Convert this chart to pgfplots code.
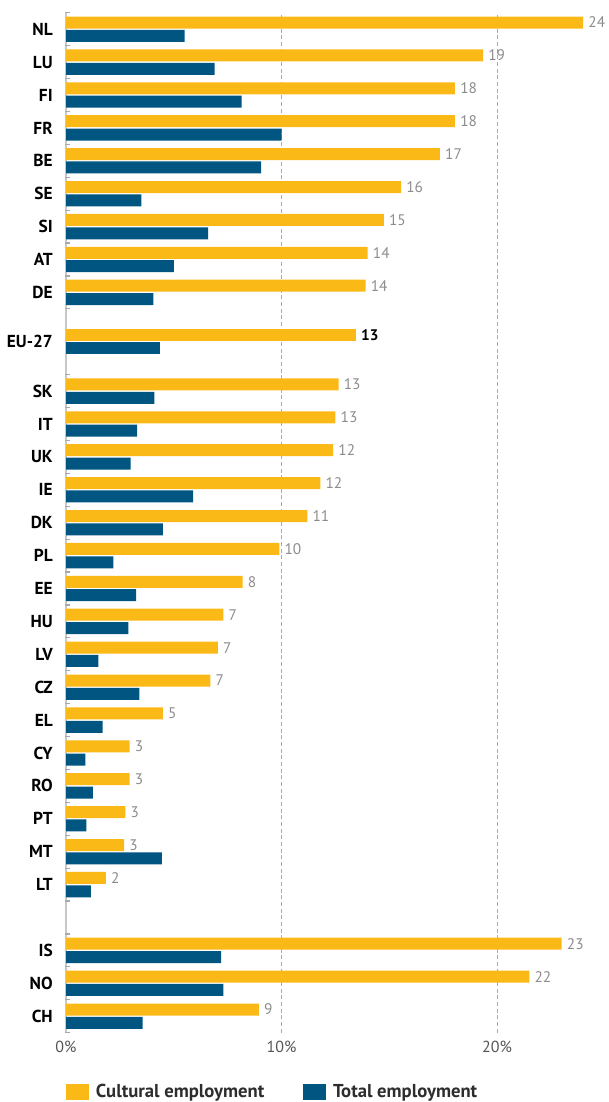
\documentclass[border=0pt]{standalone}
\usepackage{pgfplots}
\pgfplotsset{compat=1.18}
\usepackage{pgfplotstable}
\usepackage{fontspec}
\setmainfont{PT Sans}
\usetikzlibrary{plotmarks}
\definecolor{cult}{RGB}{251,185,23}
\definecolor{tot}{RGB}{0,85,129}
\definecolor{lblgray}{RGB}{140,140,140}
\definecolor{axgray}{RGB}{200,200,200}
\definecolor{tickgray}{RGB}{170,170,170}
\definecolor{gridgray}{RGB}{170,170,170}
\definecolor{legtxt}{RGB}{45,45,45}
\definecolor{ticktxt}{RGB}{85,85,85}

\pgfplotstableread{
y c t l
30 24.0 5.5 24
29 19.35 6.9 19
28 18.05 8.15 18
27 18.05 10.0 18
26 17.35 9.05 17
25 15.55 3.5 16
24 14.75 6.6 15
23 14.0 5.0 14
22 13.9 4.05 14
19 12.65 4.1 13
18 12.5 3.3 13
17 12.4 3.0 12
16 11.8 5.9 12
15 11.2 4.5 11
14 9.9 2.2 10
13 8.2 3.25 8
12 7.3 2.9 7
11 7.05 1.5 7
10 6.7 3.4 7
9 4.5 1.7 5
8 2.95 0.9 3
7 2.95 1.25 3
6 2.75 0.95 3
5 2.7 4.45 3
4 1.85 1.15 2
2 23.0 7.2 23
1 21.5 7.3 22
0 8.95 3.55 9
}\data

\pgfplotstableread{
y c t l
20.5 13.45 4.35 13
}\eu

\pgfplotsset{
  common/.style={
    x=16.1625pt, y=24.675pt,
    xmin=0, xmax=25, ymin=-0.5, ymax=30.5,
    clip=false,
  }
}

\begin{document}
\begin{tikzpicture}
% background axis: x tick labels and dashed grid
\begin{axis}[
  common,
  axis y line=none,
  axis x line*=bottom,
  x axis line style={draw=none, -},
  xtick={0,10,20},
  xticklabels={0\%,10\%,20\%},
  every x tick/.style={draw=none},
  xmajorgrids,
  major grid style={draw=gridgray, dash pattern=on 3pt off 2pt, line width=0.6pt},
  xticklabel style={font=\fontsize{12}{14}\selectfont, text=ticktxt, inner sep=0pt, yshift=-6pt},
]
\end{axis}
% main axis
\begin{axis}[
  common,
  axis x line=none,
  axis y line*=left,
  y axis line style={draw=axgray, line width=1.5pt, -},
  ytick={0,1,2,4,5,6,7,8,9,10,11,12,13,14,15,16,17,18,19,20.5,22,23,24,25,26,27,28,29,30},
  yticklabels={CH,NO,IS,LT,MT,PT,RO,CY,EL,CZ,LV,HU,EE,PL,DK,IE,UK,IT,SK,EU-27,DE,AT,SI,SE,BE,FR,FI,LU,NL},
  every tick/.style={draw=none},
  major tick length=0pt,
  yticklabel style={font=\fontsize{13}{15}\selectfont\bfseries, text=black, inner sep=0pt, xshift=-9.75pt},
  legend columns=2,
  legend style={at={(axis description cs:0,-0.0582)}, anchor=west, draw=none, fill=none,
    inner sep=0pt, outer sep=0pt,
    font=\fontsize{14}{16}\selectfont\bfseries, text=legtxt,
    nodes={inner sep=0pt},
    column sep=5.25pt,
    /tikz/every even column/.append style={column sep=29pt}},
  legend image code/.code={\fill[#1] (0pt,-6pt) rectangle (17.25pt,6pt);},
]
\addplot[xbar, bar width=9pt, bar shift=5pt, fill=cult, draw=none,
  nodes near coords, point meta=explicit symbolic,
  every node near coord/.append style={anchor=west, inner sep=0pt, xshift=3.75pt, yshift=5pt,
    font=\fontsize{11.5}{13}\selectfont, text=lblgray}]
  table[x=c, y=y, meta=l] {\data};
\addlegendentry{Cultural employment}
\addplot[xbar, bar width=9pt, bar shift=-5pt, fill=tot, draw=none]
  table[x=t, y=y] {\data};
\addlegendentry{Total employment}
\addplot[xbar, bar width=9pt, bar shift=5pt, fill=cult, draw=none, forget plot,
  nodes near coords, point meta=explicit symbolic,
  every node near coord/.append style={anchor=west, inner sep=0pt, xshift=3.75pt, yshift=5pt,
    font=\fontsize{11.5}{13}\selectfont\bfseries, text=black}]
  table[x=c, y=y, meta=l] {\eu};
\addplot[xbar, bar width=9pt, bar shift=-5pt, fill=tot, draw=none, forget plot]
  table[x=t, y=y] {\eu};
% category boundary tick marks on the y axis
\addplot[only marks, mark=-, mark size=1.9pt, forget plot,
  mark options={draw=tickgray, line width=0.9pt}]
  coordinates {(0.09,-0.5) (0.09,0.5) (0.09,1.5) (0.09,2.5) (0.09,3.5) (0.09,4.5)
  (0.09,5.5) (0.09,6.5) (0.09,7.5) (0.09,8.5) (0.09,9.5) (0.09,10.5) (0.09,11.5)
  (0.09,12.5) (0.09,13.5) (0.09,14.5) (0.09,15.5) (0.09,16.5) (0.09,17.5) (0.09,18.5)
  (0.09,19.5) (0.09,21.5) (0.09,22.5) (0.09,23.5) (0.09,24.5) (0.09,25.5) (0.09,26.5)
  (0.09,27.5) (0.09,28.5) (0.09,29.5) (0.09,30.5)};
\end{axis}
\pgfresetboundingbox
\path[use as bounding box] (-49.5pt,-52pt) rectangle (406.5pt,774.5pt);
\end{tikzpicture}
\end{document}
